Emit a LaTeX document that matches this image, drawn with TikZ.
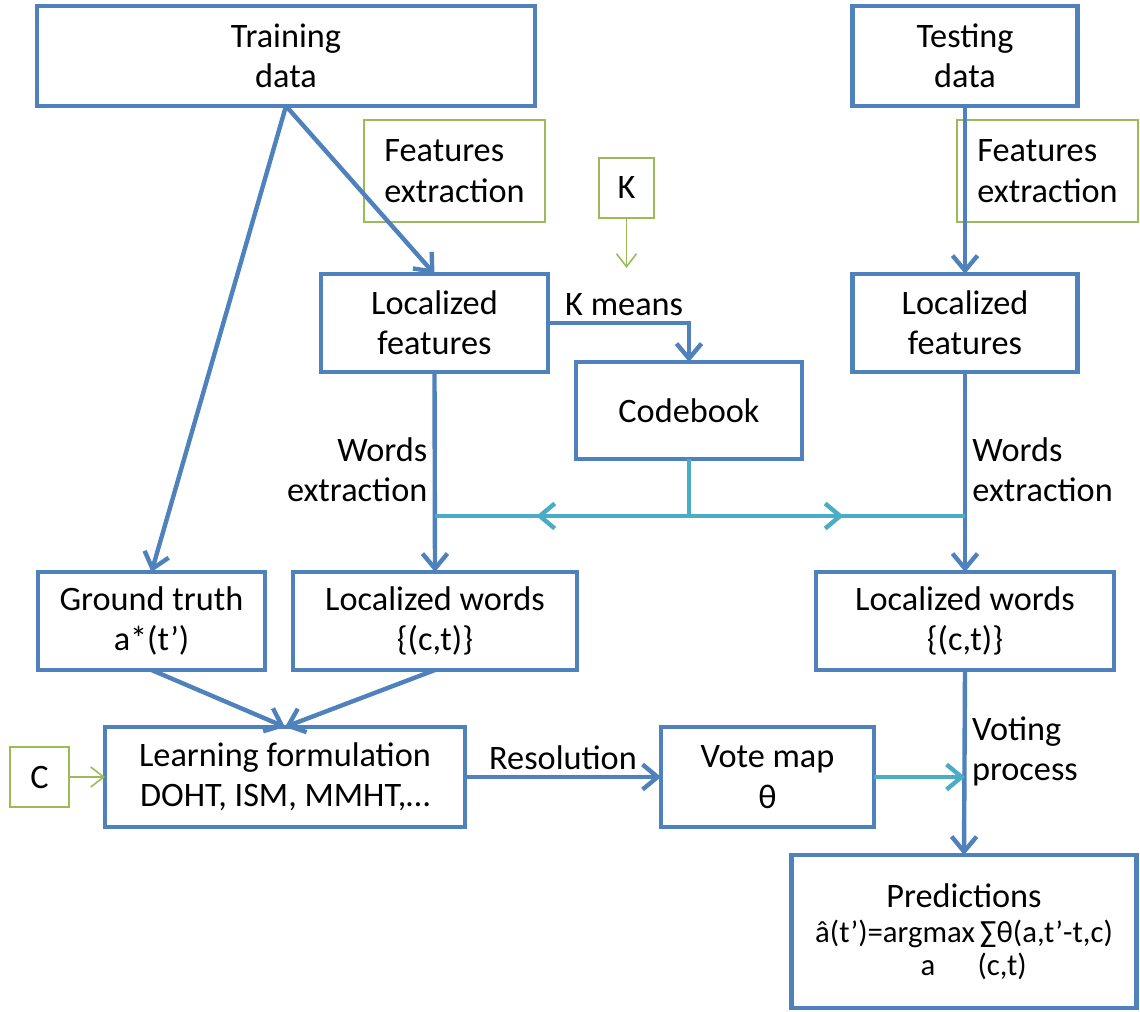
\documentclass[tikz,border=0pt]{standalone}
\usepackage{fontspec}
\setmainfont{Carlito}
\usepackage{tikz}
\usetikzlibrary{arrows.meta}
\usetikzlibrary{decorations.markings}
\definecolor{boxblue}{HTML}{4F81BD}
\definecolor{linkcyan}{HTML}{4BACC6}
\definecolor{parmgreen}{HTML}{9BBB59}
\newcommand{\fmlfont}{\fontsize{17.5}{19.5}\selectfont}

\begin{document}
\begin{tikzpicture}[
  >={Straight Barb[length=3mm,width=5mm]},
  blk/.style={draw=boxblue,line width=2.5pt,rectangle,align=center,inner sep=0pt,outer sep=0pt},
  parm/.style={draw=parmgreen,line width=0.9pt,rectangle,inner sep=0pt,outer sep=0pt},
  lbl/.style={inner sep=3pt},
  flow/.style={->,draw=boxblue,line width=2.5pt},
  cyanflow/.style={color=linkcyan,line width=2.5pt},
  parmflow/.style={->,draw=parmgreen,line width=0.9pt,>={Straight Barb[length=2.6mm,width=4mm]}},
  midarrow/.style={postaction={decorate},decoration={markings,mark=at position #1 with {\arrow{>}}}}]
  \tikzstyle{every node}=[font=\fontsize{19.5}{23}\selectfont,text=black]

  \useasboundingbox (0,0) rectangle (22.8,-20.24);

  % data and parameters
  \node[blk,minimum width=9.96cm,minimum height=2cm] (train) at (5.72,-1.12) {Training\\data};
  \node[blk,minimum width=4.5cm,minimum height=2cm] (test) at (19.3,-1.12) {Testing\\data};
  \node[parm,minimum width=3.62cm,minimum height=2.04cm,align=left] (fextL) at (9.09,-3.42) {Features\\extraction};
  \node[parm,minimum width=3.62cm,minimum height=2.04cm,align=left] (fextR) at (20.95,-3.42) {Features\\extraction};
  \node[parm,minimum width=1.1cm,minimum height=1.2cm] (kpar) at (12.53,-3.76) {K};
  \coordinate (kend) at (12.53,-5.36);

  % features and codebook
  \node[blk,minimum width=4.54cm,minimum height=1.96cm] (locfL) at (8.69,-6.46) {Localized\\features};
  \node[blk,minimum width=4.5cm,minimum height=1.96cm] (locfR) at (19.3,-6.46) {Localized\\features};
  \node[blk,minimum width=4.52cm,minimum height=1.94cm] (codebook) at (13.78,-8.21) {Codebook};

  % words
  \node[blk,minimum width=4.54cm,minimum height=1.96cm] (truth) at (3.03,-12.42) {Ground truth\\a*(t’)};
  \node[blk,minimum width=5.68cm,minimum height=1.96cm] (locwL) at (8.7,-12.42) {Localized words\\\{(c,t)\}};
  \node[blk,minimum width=5.96cm,minimum height=1.96cm] (locwR) at (19.3,-12.42) {Localized words\\\{(c,t)\}};

  % learning and voting
  \node[blk,minimum width=7.2cm,minimum height=2cm] (learn) at (5.7,-15.54) {Learning formulation\\DOHT, ISM, MMHT,…};
  \node[parm,minimum width=1.18cm,minimum height=1.2cm] (cpar) at (0.79,-15.54) {C};
  \node[blk,minimum width=4.26cm,minimum height=2cm] (vote) at (15.35,-15.54) {Vote map\\θ};
  \node[blk,minimum width=6.9cm,minimum height=3.06cm] (pred) at (19.28,-18.63)
    {Predictions\\[-3pt]\fmlfont â(t’)=argmax\,∑θ(a,t’-t,c)\\[-4pt]\fmlfont\hspace*{11pt}a\hspace{24pt}(c,t)};

  % connectors
  \draw[flow] (train.south) -- (locfL.north);
  \draw[flow] (train.south) -- (truth.north);
  \draw[flow] (test.south) -- (locfR.north);
  \draw[parmflow] (kpar.south) -- (kend);
  \draw[flow] (locfL.east) -| node[lbl,above,pos=0.27] (kmeans) {K means} (codebook.north);
  \draw[flow] (locfL.south) -- node[lbl,left,pos=0.49,align=right] (wextL) {Words\\extraction} (locwL.north);
  \draw[flow] (locfR.south) -- node[lbl,right,pos=0.49,align=left] (wextR) {Words\\extraction} (locwR.north);

  \coordinate (split) at (13.78,-10.32);
  \coordinate (splitL) at (locfL.south |- split);
  \coordinate (splitR) at (locfR.south |- split);
  \draw[cyanflow] (codebook.south) -- (split);
  \draw[cyanflow,midarrow=0.6] (split) -- (splitL);
  \draw[cyanflow,midarrow=0.56] (split) -- (splitR);

  \draw[flow] (truth.south) -- (learn.north);
  \draw[flow] (locwL.south) -- (learn.north);
  \draw[parmflow] (cpar.east) -- (learn.west);
  \draw[flow] (learn.east) -- node[lbl,above,pos=0.5] (resol) {Resolution} (vote.west);
  \draw[flow] (locwR.south) -- node[lbl,right,pos=0.44,align=left] (voting) {Voting\\process} (pred.north);
  \coordinate (vjoin) at (locwR.south |- vote.east);
  \draw[cyanflow,->] (vote.east) -- (vjoin);

\end{tikzpicture}
\end{document}
